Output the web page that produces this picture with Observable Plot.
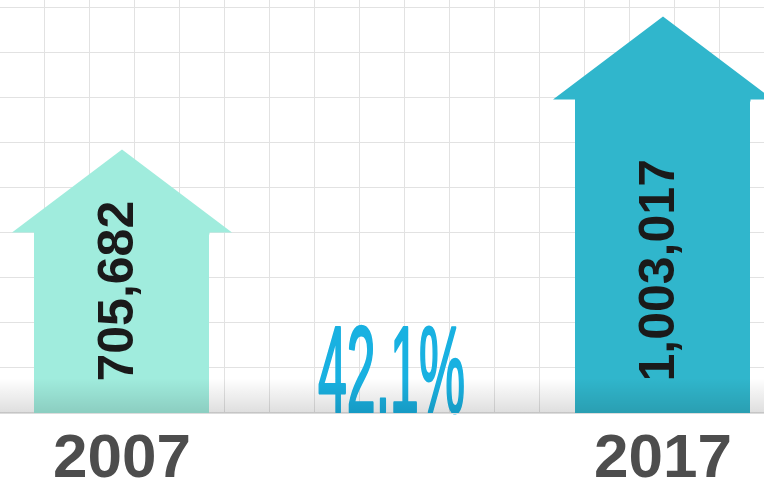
<!DOCTYPE html>
<html>
<head>
<meta charset="utf-8">
<script src="https://cdn.jsdelivr.net/npm/d3@7"></script>
<script src="https://cdn.jsdelivr.net/npm/@observablehq/plot@0.6"></script>
<style>
  html, body { margin: 0; padding: 0; background: #ffffff; }
  #wrap { position: relative; width: 764px; height: 480px; overflow: hidden; }
  #grid {
    position: absolute; left: 0; top: 0; width: 764px; height: 413px;
    background-image:
      linear-gradient(to right, #e2e2e2 1.5px, transparent 1.5px),
      linear-gradient(to bottom, #e2e2e2 1.5px, transparent 1.5px);
    background-size: 45px 45px;
    background-position: 44px 7px;
  }
  #chart { position: absolute; left: 0; top: 0; }
  #shade {
    position: absolute; left: 0; top: 378px; width: 764px; height: 35px;
    background: linear-gradient(to bottom, rgba(0,0,0,0), rgba(0,0,0,0.13));
    border-bottom: 1px solid #dcdcdc;
    pointer-events: none;
  }
</style>
</head>
<body>
<div id="wrap">
  <div id="grid"></div>
  <div id="chart"></div>
  <div id="shade"></div>
</div>
<script>
// ---- data ----
const years = ["2007", "2017"];
const values = [705682, 1003017];
const fills = ["#a0ecdd", "#30b6cc"];

const data = years.map((year, i) => ({year, value: values[i]}));
const growth = (values[1] - values[0]) / values[0];
const growthLabel = d3.format(".1%")(growth);

// arrow head as a custom symbol (apex at the value)
const arrowHead = {
  draw(ctx) {
    ctx.moveTo(0, 0);
    ctx.lineTo(110, 83);
    ctx.lineTo(87.5, 83);
    ctx.lineTo(87.5, 85);
    ctx.lineTo(-87.5, 85);
    ctx.lineTo(-87.5, 83);
    ctx.lineTo(-110, 83);
    ctx.closePath();
  }
};

const font = "'Liberation Sans', Arial, Helvetica, sans-serif";

const chart = Plot.plot({
  width: 764,
  height: 480,
  marginTop: 0,
  marginBottom: 67,
  marginLeft: 0,
  marginRight: 0,
  style: {background: "transparent", overflow: "visible"},
  x: {type: "band", domain: years, paddingInner: 0.6765, paddingOuter: 0.0443, align: 0.708, axis: null},
  y: {domain: [115480, 1038790], axis: null},
  color: {domain: years, range: fills},
  marks: [
    Plot.barY(data, {x: "year", y: "value", fill: "year", insetTop: 83, clip: true}),
    Plot.dot(data, {x: "year", y: "value", fill: "year", stroke: "none", symbol: arrowHead, r: 1}),
    Plot.text(data, {
      x: "year", text: d => d3.format(",")(d.value), rotate: -90,
      frameAnchor: "bottom", textAnchor: "start", lineAnchor: "bottom",
      dx: 11, dy: -32, fontSize: 50, fontWeight: "bold", fill: "#1a1a1a", fontFamily: font
    }),
    Plot.text(data, {
      x: "year", text: "year", frameAnchor: "bottom", lineAnchor: "bottom",
      dy: 63, fontSize: 62, fontWeight: "bold", fill: "#4d4d4d", fontFamily: font
    }),
    Plot.text([growthLabel], {
      text: d => d, frameAnchor: "bottom", lineAnchor: "bottom", dx: 9, dy: -1.5,
      fontSize: 123, fontWeight: "normal", fill: "#19b1e1", stroke: "#19b1e1", strokeWidth: 3,
      fontFamily: "'Liberation Sans Narrow', 'Liberation Sans', Arial, sans-serif",
      className: "growth"
    })
  ]
});

document.getElementById("chart").appendChild(chart);

// condense the growth label horizontally
const g = chart.querySelector(".growth text");
if (g) {
  const bb = g.getBBox();
  const s = 147 / bb.width;
  const t = g.getAttribute("transform") || "";
  g.setAttribute("transform", t + ` scale(${s},1)`);
}
</script>
</body>
</html>
